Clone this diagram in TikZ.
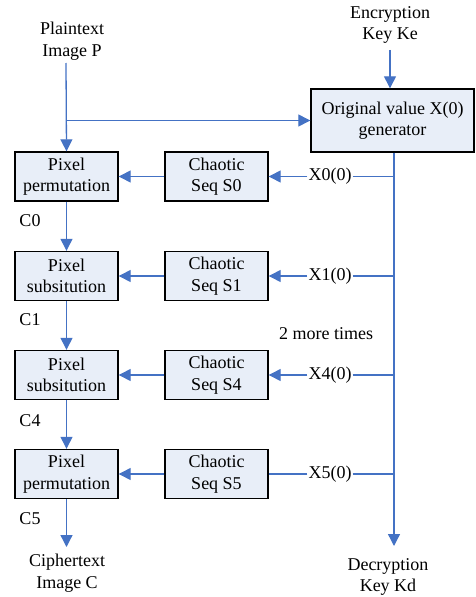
\documentclass[tikz,border=0pt]{standalone}
\usepackage{fontspec}
\setmainfont{Liberation Serif}
\usetikzlibrary{arrows.meta}
\definecolor{flow}{HTML}{4472C4}
\definecolor{boxfill}{HTML}{E8EEF8}
\begin{document}
\begin{tikzpicture}[x=1pt,y=-1pt,
  txt/.style={font=\fontsize{18}{21.5}\selectfont, align=center, inner sep=0pt},
  blk/.style={txt, draw=black, line width=1.4pt, fill=boxfill, minimum width=103pt, minimum height=49pt},
  wire/.style={draw=flow, line width=1.3pt},
  arr/.style={wire, -{Triangle[length=12pt,width=12pt]}}]
\useasboundingbox (0,0) rectangle (476,597);

% inputs and outputs
\node[txt] (plain) at (72,41) {Plaintext\\Image P};
\node[txt] (enc) at (390,25) {Encryption\\Key Ke};
\node[txt] (ciph) at (67,573) {Ciphertext\\Image C};
\node[txt] (dec) at (388,577) {Decryption\\Key Kd};

% key schedule generator
\node[blk, minimum width=163pt, minimum height=63pt] (gen) at (392.5,120.5) {Original value X(0)\\generator};

% processing chain
\node[blk] (p0) at (66.5,176.5) {Pixel\\permutation};
\node[blk] (p1) at (66.5,276) {Pixel\\subsitution};
\node[blk] (p4) at (66.5,375) {Pixel\\subsitution};
\node[blk] (p5) at (66.5,474) {Pixel\\permutation};

\node[blk] (s0) at (216.5,176.5) {Chaotic\\Seq S0};
\node[blk] (s1) at (216.5,276) {Chaotic\\Seq S1};
\node[blk] (s4) at (216.5,375) {Chaotic\\Seq S4};
\node[blk] (s5) at (216.5,474) {Chaotic\\Seq S5};

% initial values taken from the bus
\node[txt, fill=white, inner xsep=1pt] (x0) at (330,176.5) {X0(0)};
\node[txt, fill=white, inner xsep=1pt] (x1) at (330,276) {X1(0)};
\node[txt, fill=white, inner xsep=1pt] (x4) at (330,375) {X4(0)};
\node[txt, fill=white, inner xsep=1pt] (x5) at (330,474) {X5(0)};

\node[txt] (more) at (326,334) {2 more times};

% intermediate results
\node[txt] (c0) at (30,221) {C0};
\node[txt] (c1) at (30,320) {C1};
\node[txt] (c4) at (30,421) {C4};
\node[txt] (c5) at (30,519) {C5};

% plaintext into the chain and into the generator
\coordinate (pstart) at (66,63);
\coordinate (tap) at (66,120.5);
\draw[arr] (pstart) -- (p0.north);
\draw[arr] (tap) -- (gen.west);
\draw[arr] (enc.south) ++(0,6) -- (gen.north -| enc.south);

% chain connections
\draw[arr] (p0) -- (p1);
\draw[arr] (p1) -- (p4);
\draw[arr] (p4) -- (p5);
\coordinate (cout) at (66.5,547);
\draw[arr] (p5) -- (cout);

\draw[arr] (s0) -- (p0);
\draw[arr] (s1) -- (p1);
\draw[arr] (s4) -- (p4);
\draw[arr] (s5) -- (p5);

% key bus
\coordinate (busend) at (394,546);
\draw[arr] (gen.south -| busend) -- (busend);
\foreach \x in {x0,x1,x4,x5}{
  \draw[wire] (\x.east) -- (\x.east -| busend);
}
\draw[arr] (x0) -- (s0);
\draw[arr] (x1) -- (s1);
\draw[arr] (x4) -- (s4);
\draw[wire] (x5) -- (s5);
\end{tikzpicture}
\end{document}
